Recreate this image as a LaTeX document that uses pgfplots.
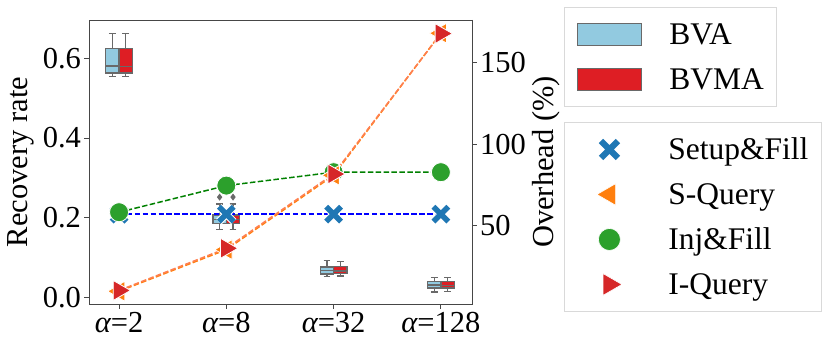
\documentclass[border=0pt]{standalone}
\usepackage{fontspec}
\setmainfont{Liberation Serif}
\usepackage{pgfplots}
\usepackage{pgfplotstable}
\pgfplotsset{compat=1.18}
\usepgfplotslibrary{statistics}
\definecolor{bvablue}{RGB}{146,202,224}
\definecolor{bvmared}{RGB}{222,30,36}
\definecolor{boxgray}{RGB}{105,105,105}
\definecolor{tabblue}{RGB}{31,119,180}
\definecolor{taborange}{RGB}{255,127,14}
\definecolor{tabgreen}{RGB}{44,160,44}
\definecolor{tabred}{RGB}{214,39,40}
\definecolor{linecoral}{RGB}{255,127,80}
\definecolor{framec}{RGB}{70,70,70}
\newcommand{\bigf}{\fontsize{30.5bp}{36bp}\selectfont}
\newcommand{\legf}{\fontsize{31.5bp}{36bp}\selectfont}
\pgfplotsset{
  /pgf/number format/assume math mode=true,
  common/.style={
    at={(89bp,45bp)}, anchor=south west, scale only axis,
    width=383bp, height=284bp, xmin=-0.28, xmax=3.29,
    axis line style={draw=framec, line width=0.9bp},
    tick style={draw=framec, line width=0.9bp},
    tick align=outside, major tick length=4.5bp, minor tick num=0,
    tick label style={font=\bigf, text=black},
    label style={font=\bigf},
    legend style={font=\legf, draw=black!15, line width=1bp,
      inner xsep=13bp, inner ysep=7.5bp, row sep=6bp,
      nodes={inner sep=0pt, text height=30bp, text depth=9bp},
      /tikz/every odd column/.append style={column sep=27bp}},
    legend cell align=left,
  },
  bx/.style={forget plot, solid, draw=boxgray, line width=1.3bp, fill=#1,
    mark=diamond*, mark size=2.5bp, mark options={fill=boxgray, draw=boxgray}},
  dline/.style={forget plot, no marks, line width=1.5bp, dash pattern=on 5.5bp off 2.4bp},
}
\pgfplotstableread{
x setup squery inj iquery
0 57.2 10.0 58.4 10.5
1 57.2 35.5 74.7 36.3
2 57.2 81.0 82.9 81.8
3 57.2 168.0 82.9 167.8
}\overhead
\begin{document}
\begin{tikzpicture}
\path[use as bounding box] (0,0) rectangle (830bp,349bp);
\begin{axis}[common,
  boxplot/draw direction=y,
  ymin=-0.016, ymax=0.696,
  xtick={0,1,2,3}, xtick pos=left, ytick pos=left,
  xticklabels={{\itshape α}=2,{\itshape α}=8,{\itshape α}=32,{\itshape α}=128},
  ytick={0,0.2,0.4,0.6},
  yticklabel style={/pgf/number format/.cd, fixed, fixed zerofill, precision=1},
  ylabel={Recovery rate},
  ylabel style={at={(axis description cs:-0.179,0.5)}, anchor=center},
  legend style={at={(1.240,1.046)}, anchor=north west},
  legend image code/.code={\draw[#1] (0bp,-11bp) rectangle (64bp,11bp);},
]
\addlegendimage{fill=bvablue, draw=boxgray, line width=1bp}
\addlegendentry{BVA}
\addlegendimage{fill=bvmared, draw=boxgray, line width=1bp}
\addlegendentry{BVMA}
% alpha=2
\addplot[bx=bvablue, boxplot prepared={draw position=-0.0625, lower whisker=0.554, lower quartile=0.563, median=0.581, upper quartile=0.624, upper whisker=0.663, box extend=0.125, whisker extend=0.0625}] coordinates {};
\addplot[bx=bvmared, boxplot prepared={draw position=0.0625, lower whisker=0.554, lower quartile=0.563, median=0.579, upper quartile=0.624, upper whisker=0.663, box extend=0.125, whisker extend=0.0625}] coordinates {};
% alpha=8
\addplot[bx=bvablue, boxplot prepared={draw position=0.9375, lower whisker=0.170, lower quartile=0.185, median=0.196, upper quartile=0.207, upper whisker=0.235, box extend=0.125, whisker extend=0.0625}] coordinates {(0,0.252)};
\addplot[bx=bvmared, boxplot prepared={draw position=1.0625, lower whisker=0.170, lower quartile=0.185, median=0.195, upper quartile=0.207, upper whisker=0.235, box extend=0.125, whisker extend=0.0625}] coordinates {(0,0.252)};
% alpha=32
\addplot[bx=bvablue, boxplot prepared={draw position=1.9375, lower whisker=0.053, lower quartile=0.059, median=0.068, upper quartile=0.077, upper whisker=0.093, box extend=0.125, whisker extend=0.0625}] coordinates {};
\addplot[bx=bvmared, boxplot prepared={draw position=2.0625, lower whisker=0.054, lower quartile=0.060, median=0.067, upper quartile=0.078, upper whisker=0.090, box extend=0.125, whisker extend=0.0625}] coordinates {};
% alpha=128
\addplot[bx=bvablue, boxplot prepared={draw position=2.9375, lower whisker=0.014, lower quartile=0.024, median=0.032, upper quartile=0.040, upper whisker=0.051, box extend=0.125, whisker extend=0.0625}] coordinates {};
\addplot[bx=bvmared, boxplot prepared={draw position=3.0625, lower whisker=0.015, lower quartile=0.024, median=0.031, upper quartile=0.041, upper whisker=0.051, box extend=0.125, whisker extend=0.0625}] coordinates {};
\end{axis}
\begin{axis}[common,
  ymin=2.2, ymax=176.1, clip=false,
  hide x axis, ytick pos=right, yticklabel pos=right,
  ytick={50,100,150},
  ylabel={Overhead (\%)},
  ylabel style={at={(axis description cs:1.193,0.5)}, anchor=center},
  legend style={at={(1.240,0.641)}, anchor=north west},
  legend image code/.code={\path[draw=none, fill=none, line width=0pt] (0bp,0bp) -- (64bp,0bp); \draw[#1] plot coordinates {(32bp,0bp)};},
]
\addlegendimage{only marks, mark=x, mark size=12bp, line width=6.2bp, color=tabblue}
\addlegendentry{Setup\&Fill}
\addlegendimage{only marks, mark=triangle*, mark size=12.5bp, mark options={rotate=90, fill=taborange, draw=white, line width=0.6bp}}
\addlegendentry{S-Query}
\addlegendimage{only marks, mark=*, mark size=11bp, mark options={fill=tabgreen, draw=white, line width=0.6bp}}
\addlegendentry{Inj\&Fill}
\addlegendimage{only marks, mark=triangle*, mark size=12.5bp, mark options={rotate=-90, fill=tabred, draw=white, line width=0.6bp}}
\addlegendentry{I-Query}
% X markers
\addplot[forget plot, only marks, mark=x, mark size=10.5bp, line width=7.5bp, color=white] table[x=x, y=setup] {\overhead};
\addplot[forget plot, only marks, mark=x, mark size=10.5bp, line width=5.5bp, color=tabblue] table[x=x, y=setup] {\overhead};
% other markers
\addplot[forget plot, only marks, mark=*, mark size=9.5bp, mark options={fill=tabgreen, draw=white, line width=0.8bp}] table[x=x, y=inj] {\overhead};
\addplot[forget plot, only marks, mark=triangle*, mark size=11.5bp, mark options={rotate=90, fill=taborange, draw=white, line width=0.8bp}] table[x=x, y=squery] {\overhead};
\addplot[forget plot, only marks, mark=triangle*, mark size=11.5bp, mark options={rotate=-90, fill=tabred, draw=white, line width=0.8bp}] table[x=x, y=iquery] {\overhead};
% lines
\addplot[dline, color=blue] table[x=x, y=setup] {\overhead};
\addplot[dline, color={rgb,255:red,0;green,128;blue,0}] table[x=x, y=inj] {\overhead};
\addplot[dline, color=taborange] table[x=x, y=squery] {\overhead};
\addplot[dline, color=linecoral] table[x=x, y=iquery] {\overhead};
\end{axis}
\end{tikzpicture}
\end{document}
